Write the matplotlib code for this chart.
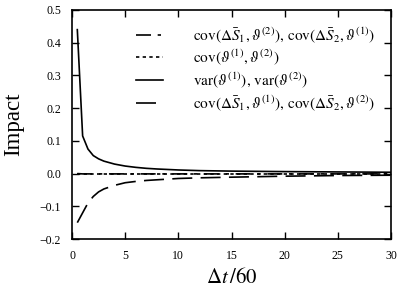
import matplotlib
matplotlib.use("Agg")
import matplotlib.pyplot as plt

plt.rcParams['font.family'] = ['Liberation Serif', 'DejaVu Serif']
plt.rcParams['mathtext.fontset'] = 'stix'

x = [0.5, 1, 1.5, 2, 2.5, 3, 4, 5, 6, 7, 8, 10, 12, 15, 20, 25, 30]
var_theta = [0.44, 0.115, 0.075, 0.055, 0.045, 0.038, 0.029, 0.023, 0.019, 0.016, 0.014, 0.011, 0.009, 0.0075, 0.006, 0.005, 0.004]
cov_dS_same = [-0.15, -0.12, -0.09, -0.07, -0.056, -0.047, -0.036, -0.028, -0.024, -0.021, -0.019, -0.015, -0.013, -0.011, -0.008, -0.006, -0.005]
cov_dS_cross = [0.0, -0.001, -0.001, -0.001, -0.001, -0.001, -0.001, -0.001, -0.001, -0.001, -0.001, -0.001, -0.001, -0.001, -0.001, -0.001, -0.001]
cov_theta = [0.0] * len(x)

labels = [r'$\mathrm{cov}(\Delta\bar{S}_1,\vartheta^{(2)}),\,\mathrm{cov}(\Delta\bar{S}_2,\vartheta^{(1)})$',
          r'$\mathrm{cov}(\vartheta^{(1)},\vartheta^{(2)})$',
          r'$\mathrm{var}(\vartheta^{(1)}),\,\mathrm{var}(\vartheta^{(2)})$',
          r'$\mathrm{cov}(\Delta\bar{S}_1,\vartheta^{(1)}),\,\mathrm{cov}(\Delta\bar{S}_2,\vartheta^{(2)})$']

fig = plt.figure(figsize=(3.99, 2.99), dpi=100)
ax = fig.add_axes([72/399, 1 - 239/299, (391 - 72)/399, (239 - 10)/299])

ax.plot(x, cov_dS_cross, color='black', lw=1.2, dashes=(9, 4, 2, 4), label=labels[0])
ax.plot(x, cov_theta, color='black', lw=1.2, dashes=(2, 2), label=labels[1])
ax.plot(x, var_theta, color='black', lw=1.2, label=labels[2])
ax.plot(x, cov_dS_same, color='black', lw=1.2, dashes=(12, 5), label=labels[3])

ax.set_xlim(0, 30)
ax.set_ylim(-0.2, 0.5)
ax.set_xticks([0, 5, 10, 15, 20, 25, 30])
ax.set_yticks([-0.2, -0.1, 0.0, 0.1, 0.2, 0.3, 0.4, 0.5])
ax.set_yticklabels(['\u22120.2', '\u22120.1', '0.0', '0.1', '0.2', '0.3', '0.4', '0.5'])
ax.tick_params(direction='in', top=True, right=True, labelsize=8.5, length=5, width=1, pad=8)
for s in ax.spines.values():
    s.set_linewidth(1.2)
ax.set_xlabel(r'$\Delta t\,/60$', fontsize=15)
ax.set_ylabel('Impact', fontsize=16.5, labelpad=11)

ax.legend(loc='upper left', frameon=False, fontsize=11, handlelength=1.77,
          handletextpad=1.96, borderpad=0, borderaxespad=0,
          bbox_to_anchor=(0.2006, 0.935), labelspacing=0.2)

fig.savefig('out.png', dpi=100)
